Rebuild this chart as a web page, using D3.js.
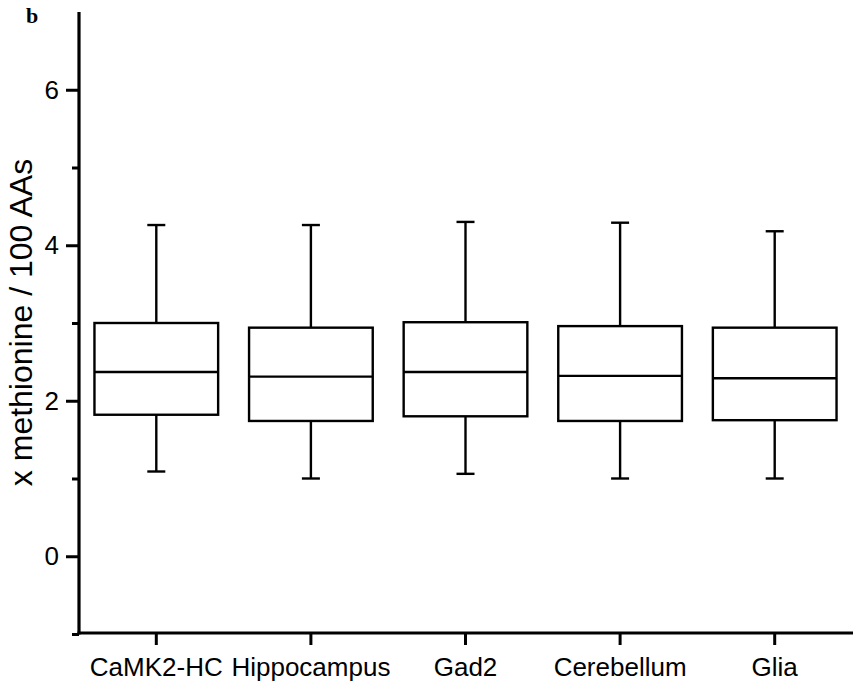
<!DOCTYPE html>
<html><head><meta charset="utf-8">
<script src="https://cdn.jsdelivr.net/npm/d3@7"></script>
<style>body{margin:0;background:#fff}svg{display:block}</style>
</head><body>
<script>
const categories = ["CaMK2-HC","Hippocampus","Gad2","Cerebellum","Glia"];
const whiskerLow  = [1.09, 1.00, 1.06, 1.00, 1.00];
const q1          = [1.82, 1.74, 1.80, 1.74, 1.75];
const median      = [2.37, 2.31, 2.37, 2.32, 2.29];
const q3          = [3.00, 2.94, 3.01, 2.96, 2.94];
const whiskerHigh = [4.26, 4.26, 4.30, 4.29, 4.18];
const majorTicks = [0, 2, 4, 6];
const minorTicks = [-1, 1, 3, 5];
const yLabel = "x methionine / 100 AAs";
const panel = "b";

const W = 853, H = 684;
const svg = d3.select("body").append("svg").attr("width", W).attr("height", H);
const axisX = 79, axisY = 633;
const y = d3.scaleLinear().domain([-1, 7]).range([634, 12]);
const x = d3.scaleBand().domain(categories).range([axisX, 852]).paddingInner(0).paddingOuter(0);
const boxW = x.bandwidth() * 0.8;
const capW = 18;
const font = "'Liberation Sans', Arial, sans-serif";

const data = categories.map((c, i) => ({c, lo: whiskerLow[i], q1: q1[i], med: median[i], q3: q3[i], hi: whiskerHigh[i]}));

const g = svg.append("g");
data.forEach(d => {
  const cx = x(d.c) + x.bandwidth() / 2;
  const s = g.append("g").attr("stroke", "#000").attr("stroke-width", 2.4).attr("fill", "none");
  s.append("line").attr("x1", cx).attr("x2", cx).attr("y1", y(d.hi)).attr("y2", y(d.q3));
  s.append("line").attr("x1", cx).attr("x2", cx).attr("y1", y(d.q1)).attr("y2", y(d.lo));
  s.append("line").attr("x1", cx - capW/2).attr("x2", cx + capW/2).attr("y1", y(d.hi)).attr("y2", y(d.hi));
  s.append("line").attr("x1", cx - capW/2).attr("x2", cx + capW/2).attr("y1", y(d.lo)).attr("y2", y(d.lo));
  s.append("rect").attr("x", cx - boxW/2).attr("y", y(d.q3)).attr("width", boxW).attr("height", y(d.q1) - y(d.q3));
  s.append("line").attr("x1", cx - boxW/2).attr("x2", cx + boxW/2).attr("y1", y(d.med)).attr("y2", y(d.med));
});

// Y axis
const yAxis = svg.append("g").attr("transform", `translate(${axisX},0)`)
  .call(d3.axisLeft(y).tickValues(majorTicks).tickSize(13).tickPadding(7).tickFormat(d3.format("d")));
yAxis.select(".domain").remove();
yAxis.selectAll(".tick line").attr("stroke-width", 3);
yAxis.selectAll(".tick text").attr("font-family", font).attr("font-size", 26).attr("fill", "#000");
const yMinor = svg.append("g").attr("transform", `translate(${axisX},0)`)
  .call(d3.axisLeft(y).tickValues(minorTicks).tickSize(7).tickFormat(""));
yMinor.select(".domain").remove();
yMinor.selectAll(".tick line").attr("stroke-width", 3);
svg.append("line").attr("x1", axisX).attr("x2", axisX).attr("y1", y(7)).attr("y2", axisY + 1.5)
  .attr("stroke", "#000").attr("stroke-width", 3.2);

// X axis
const xAxis = svg.append("g").attr("transform", `translate(0,${axisY})`)
  .call(d3.axisBottom(x).tickSize(12).tickPadding(12.5));
xAxis.select(".domain").remove();
xAxis.selectAll(".tick line").attr("stroke-width", 3);
xAxis.selectAll(".tick text").attr("font-family", font).attr("font-size", 26).attr("fill", "#000");
svg.append("line").attr("x1", axisX - 1.5).attr("x2", W).attr("y1", axisY).attr("y2", axisY)
  .attr("stroke", "#000").attr("stroke-width", 3.2);

// Y label
svg.append("text").attr("transform", `translate(32,322.5) rotate(-90)`)
  .attr("text-anchor", "middle").attr("font-family", font).attr("font-size", 32).attr("fill", "#000")
  .text(yLabel);

svg.append("text").attr("x", 26).attr("y", 23).attr("font-family", "'Liberation Serif', 'Times New Roman', serif")
  .attr("font-weight", "bold").attr("font-size", 22).text(panel);
</script>
</body></html>
